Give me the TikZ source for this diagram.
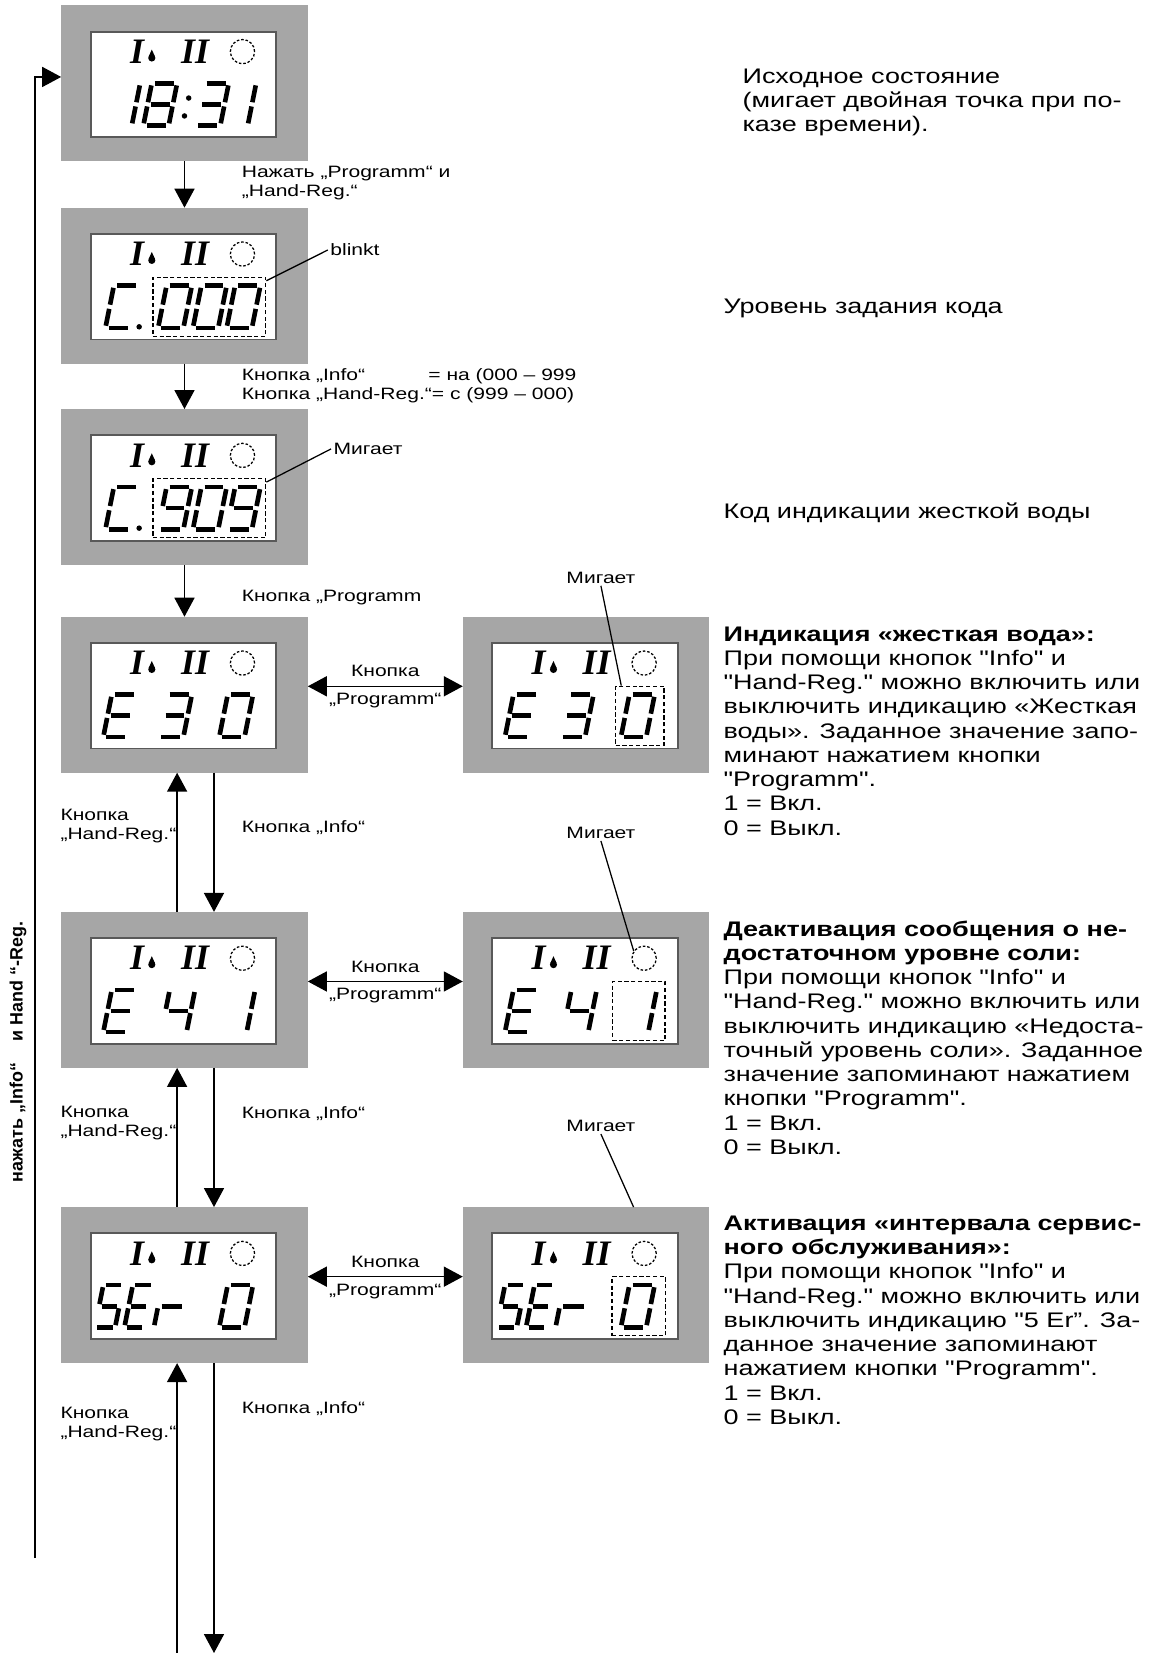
\documentclass[tikz,border=0pt]{standalone}
\usepackage{fontspec}
\newfontfamily\descfont{Liberation Sans}[FakeStretch=1.28]
\newfontfamily\loopfont{Liberation Sans}
\newfontfamily\lcdfont{Liberation Serif}
\usetikzlibrary{arrows.meta,calc}
\AtBeginDocument{\global\lineskiplimit=-\maxdimen}

% segments of one LCD digit (cell 24 x 40, origin bottom left)
\newcommand\lcdsega{(3,-40) -- (21,-40)}
\newcommand\lcdsegb{(24,-38) -- (24,-22)}
\newcommand\lcdsegc{(24,-18) -- (24,-2)}
\newcommand\lcdsegd{(3,0) -- (21,0)}
\newcommand\lcdsege{(0,-2) -- (0,-18)}
\newcommand\lcdsegf{(0,-22) -- (0,-38)}
\newcommand\lcdsegg{(3,-20) -- (21,-20)}

\newcommand{\lcddigit}[3][1]{%
  \begin{scope}[shift={(#2,114)},xslant=0.2,xscale=#1]
    \foreach \s in {#3} {\draw[lcdseg] \csname lcdseg\s\endcsname;}
  \end{scope}}

\newcommand{\lcdpanel}[1]{%
  \begin{scope}[shift={(#1.north west)}]
    \draw[lcdframe] (28,25) rectangle (204,125);
    \node[lcdicon] (#1one) at (72,55) {I};
    \fill (86,50) circle (3.4);
    \fill (83,48.6) -- (86,42) -- (89,48.6) -- cycle;
    \node[lcdicon] (#1two) at (127,55) {II};
    \node[lcdring] (#1ring) at (172,44) {};
  \end{scope}}

\tikzset{
  lcdbox/.style={fill=gray!70, minimum width=117pt, minimum height=74pt, inner sep=0pt, outer sep=0pt},
  lcdframe/.style={fill=white, draw=black!65, line width=0.9pt},
  lcdicon/.style={font=\lcdfont\bfseries\itshape\fontsize{17}{16}\selectfont, inner sep=0pt, anchor=base},
  lcdring/.style={circle, draw, dash pattern=on 1.2pt off 0.9pt, line width=0.6pt, minimum size=11.5pt, inner sep=0pt},
  lcdseg/.style={line width=2.2pt},
  blinkbox/.style={draw, dash pattern=on 2pt off 1.2pt, line width=0.7pt, inner sep=0pt},
  flow/.style={-{Triangle[width=9.5pt,length=9pt]}, line width=0.7pt},
  toggle/.style={{Triangle[width=9.5pt,length=9pt]}-{Triangle[width=9.5pt,length=9pt]}, line width=0.7pt},
  pointer/.style={line width=0.6pt},
  lbl/.style={font=\descfont\fontsize{7.8}{9}\selectfont, align=left, inner sep=0pt, anchor=north west},
  desc/.style={font=\descfont\fontsize{10}{11.5}\selectfont, align=left, inner sep=0pt, anchor=north west},
}

\begin{document}
\begin{tikzpicture}[x=0.5pt,y=-0.5pt]
\path[use as bounding box, fill=white] (0,0) rectangle (1089,1568);

% displays
\node[lcdbox] (init) at (175,79) {};
\node[lcdbox] (code) at (175,271) {};
\node[lcdbox] (codeset) at (175,462) {};
\node[lcdbox] (hard) at (175,659) {};
\node[lcdbox] (salt) at (175,939) {};
\node[lcdbox] (serv) at (175,1219) {};
\node[lcdbox] (hardset) at (556,659) {};
\node[lcdbox] (saltset) at (556,939) {};
\node[lcdbox] (servset) at (556,1219) {};

\lcdpanel{init}
\lcdpanel{code}
\lcdpanel{codeset}
\lcdpanel{hard}
\lcdpanel{salt}
\lcdpanel{serv}
\lcdpanel{hardset}
\lcdpanel{saltset}
\lcdpanel{servset}

% 18:31
\begin{scope}[shift={(init.north west)}]
  \lcddigit{43}{b,c}
  \lcddigit{78}{a,b,c,d,e,f,g}
  \fill (121,88) circle (2.6);
  \fill (117,105) circle (2.6);
  \lcddigit{127}{a,b,c,d,g}
  \lcddigit{153}{b,c}
\end{scope}
% C.000
\begin{scope}[shift={(code.north west)}]
  \lcddigit{42}{a,d,e,f}
  \fill (74,113) circle (2.6);
  \lcddigit{92}{a,b,c,d,e,f}
  \lcddigit{125}{a,b,c,d,e,f}
  \lcddigit{157}{a,b,c,d,e,f}
  \node[blinkbox, minimum width=53.5pt, minimum height=28pt] (codeblink) at (140.5,94) {};
\end{scope}
% C.909
\begin{scope}[shift={(codeset.north west)}]
  \lcddigit{42}{a,d,e,f}
  \fill (74,113) circle (2.6);
  \lcddigit{92}{a,b,c,d,f,g}
  \lcddigit{125}{a,b,c,d,e,f}
  \lcddigit{157}{a,b,c,d,f,g}
  \node[blinkbox, minimum width=53.5pt, minimum height=28pt] (codesetblink) at (140.5,94) {};
\end{scope}
% E 3 0
\begin{scope}[shift={(hard.north west)}]
  \lcddigit{40}{a,d,e,f,g}
  \lcddigit{92}{a,b,c,d,g}
  \lcddigit{150}{a,b,c,d,e,f}
\end{scope}
\begin{scope}[shift={(hardset.north west)}]
  \lcddigit{40}{a,d,e,f,g}
  \lcddigit{92}{a,b,c,d,g}
  \lcddigit{150}{a,b,c,d,e,f}
  \node[blinkbox, minimum width=23pt, minimum height=28pt] (hardblink) at (168,94) {};
\end{scope}
% E 4 1
\begin{scope}[shift={(salt.north west)}]
  \lcddigit{40}{a,d,e,f,g}
  \lcddigit{95}{b,c,f,g}
  \lcddigit{152}{b,c}
\end{scope}
\begin{scope}[shift={(saltset.north west)}]
  \lcddigit{40}{a,d,e,f,g}
  \lcddigit{95}{b,c,f,g}
  \lcddigit{152}{b,c}
  \node[blinkbox, minimum width=25pt, minimum height=28pt] (saltblink) at (167,94) {};
\end{scope}
% SEr 0
\begin{scope}[shift={(serv.north west)}]
  \lcddigit[0.8]{32}{a,c,d,f,g}
  \lcddigit[0.8]{60}{a,d,e,f,g}
  \lcddigit[1.1]{88}{e,g}
  \lcddigit{150}{a,b,c,d,e,f}
\end{scope}
\begin{scope}[shift={(servset.north west)}]
  \lcddigit[0.8]{32}{a,c,d,f,g}
  \lcddigit[0.8]{60}{a,d,e,f,g}
  \lcddigit[1.1]{88}{e,g}
  \lcddigit{150}{a,b,c,d,e,f}
  \node[blinkbox, minimum width=25.5pt, minimum height=28pt] (servblink) at (167,94) {};
\end{scope}

% arrows
\draw[flow] (init) -- (code);
\draw[flow] (code) -- (codeset);
\draw[flow] (codeset) -- (hard);
\draw[flow] ([xshift=14pt]hard.south) -- ([xshift=14pt]salt.north);
\draw[flow] ([xshift=-3.5pt]salt.north) -- ([xshift=-3.5pt]hard.south);
\draw[flow] ([xshift=14pt]salt.south) -- ([xshift=14pt]serv.north);
\draw[flow] ([xshift=-3.5pt]serv.north) -- ([xshift=-3.5pt]salt.south);
\coordinate (infoend) at (203,1568);
\coordinate (handstart) at (168,1568);
\draw[flow] ([xshift=14pt]serv.south) -- (infoend);
\draw[flow] (handstart) -- ([xshift=-3.5pt]serv.south);
\coordinate (loopstart) at (33,1478);
\draw[flow] (loopstart) |- ([yshift=3pt]init.west);

\draw[toggle] ([yshift=4pt]hard.east) -- ([yshift=4pt]hardset.west)
  node[lbl, midway, above=4pt] (hardkey) {Кнопка}
  node[lbl, midway, below=3pt] (hardprog) {„Programm“};
\draw[toggle] ([yshift=4pt]salt.east) -- ([yshift=4pt]saltset.west)
  node[lbl, midway, above=4pt] (saltkey) {Кнопка}
  node[lbl, midway, below=3pt] (saltprog) {„Programm“};
\draw[toggle] ([yshift=4pt]serv.east) -- ([yshift=4pt]servset.west)
  node[lbl, midway, above=4pt] (servkey) {Кнопка}
  node[lbl, midway, below=3pt] (servprog) {„Programm“};

% labels
\node[lbl] (pressboth) at (229,157) {Нажать „Programm“ и\\„Hand-Reg.“};
\node[lbl] (blinkt) at (313,231) {blinkt};
\node[lbl] (coderange) at (229,349) {Кнопка „Info“\\Кнопка „Hand-Reg.“= с (999 – 000)};
\node[lbl] (coderangeup) at (406,349) {= на (000 – 999};
\node[lbl] (mig3) at (316,420) {Мигает};
\node[lbl] (progkey) at (229,559) {Кнопка „Programm};
\node[lbl, anchor=north] (mig4) at (570,542) {Мигает};
\node[lbl, anchor=north] (mig5) at (570,784) {Мигает};
\node[lbl, anchor=north] (mig6) at (570,1062) {Мигает};
\node[lbl] (hardhand) at (57,767) {Кнопка\\„Hand-Reg.“};
\node[lbl] (hardinfo) at (229,778) {Кнопка „Info“};
\node[lbl] (salthand) at (57,1049) {Кнопка\\„Hand-Reg.“};
\node[lbl] (saltinfo) at (229,1049) {Кнопка „Info“};
\node[lbl] (servhand) at (57,1334) {Кнопка\\„Hand-Reg.“};
\node[lbl] (servinfo) at (229,1329) {Кнопка „Info“};
\node[rotate=90, inner sep=0pt, font=\loopfont\bfseries\fontsize{8.5}{9}\selectfont] (looplbl) at (17,998)
  {нажать „Info“\hspace{1.2em}и Hand “-Reg.};

% pointers
\draw[pointer] ([xshift=-1pt]blinkt.west) -- ([yshift=-2pt]codeblink.north east);
\draw[pointer] ([xshift=-1pt]mig3.west) -- ([yshift=-2pt]codesetblink.north east);
\draw[pointer] ([yshift=-1pt]mig4.south) -- ([xshift=3pt]hardblink.north west);
\draw[pointer] ([yshift=-1pt]mig5.south) -- (saltsetring.145);
\draw[pointer] ([yshift=-1pt]mig6.south) -- ([xshift=22.5pt]servset.north);

% descriptions
\node[desc] (startdesc) at (704,65) {Исходное состояние\\(мигает двойная точка при по-\\казе времени).};
\node[desc] (codedesc) at (686,283) {Уровень задания кода};
\node[desc] (codesetdesc) at (686,477) {Код индикации жесткой воды};
\node[desc] (harddesc) at (686,594) {\bfseries Индикация «жесткая вода»:\\
  При помощи кнопок "Info" и\\
  "Hand-Reg." можно включить или\\
  выключить индикацию «Жесткая\\
  воды». Заданное значение запо-\\
  минают нажатием кнопки\\
  "Programm".\\
  1 = Вкл.\\
  0 = Выкл.};
\node[desc] (saltdesc) at (686,873) {\bfseries Деактивация сообщения о не-\\
  \bfseries достаточном уровне соли:\\
  При помощи кнопок "Info" и\\
  "Hand-Reg." можно включить или\\
  выключить индикацию «Недоста-\\
  точный уровень соли». Заданное\\
  значение запоминают нажатием\\
  кнопки "Programm".\\
  1 = Вкл.\\
  0 = Выкл.};
\node[desc] (servdesc) at (686,1153) {\bfseries Активация «интервала сервис-\\
  \bfseries ного обслуживания»:\\
  При помощи кнопок "Info" и\\
  "Hand-Reg." можно включить или\\
  выключить индикацию "5 Er”. За-\\
  данное значение запоминают\\
  нажатием кнопки "Programm".\\
  1 = Вкл.\\
  0 = Выкл.};
\end{tikzpicture}
\end{document}
